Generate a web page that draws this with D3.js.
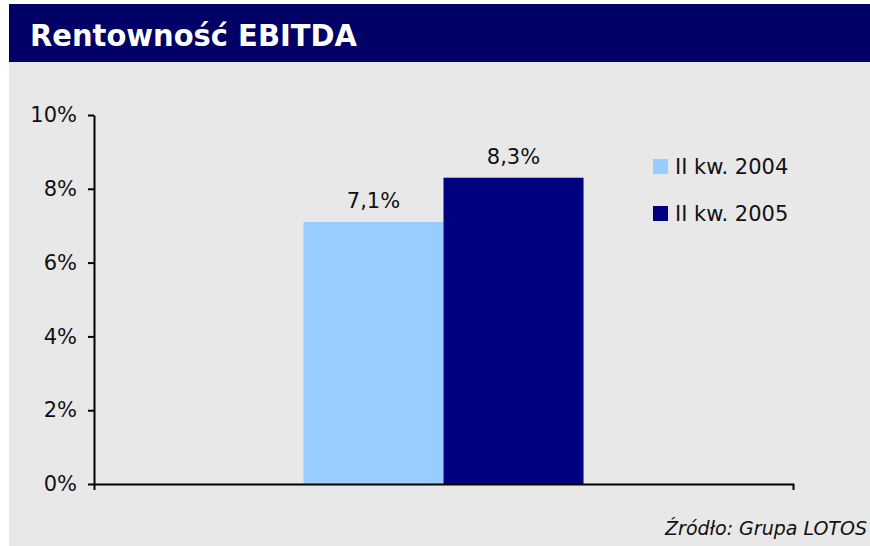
<!DOCTYPE html>
<html>
<head>
<meta charset="utf-8">
<script src="https://cdn.jsdelivr.net/npm/d3@7"></script>
<style>
  html, body { margin: 0; padding: 0; background: #fff; }
  svg { display: block; font-family: "DejaVu Sans", Verdana, sans-serif; }
</style>
</head>
<body>
<div id="chart"></div>
<script>
// Rentowność EBITDA — one category, two quarters side by side
const categories = [''];
const seriesNames = ['II kw. 2004', 'II kw. 2005'];
const seriesValues = [7.1, 8.3];
const seriesColors = ['#99ccff', '#000080'];
const yTicks = [0, 2, 4, 6, 8, 10];

const W = 870, H = 546;
const plot = { left: 94, right: 793, top: 115, bottom: 484 };
const fontSize = 21;

const svg = d3.select('#chart').append('svg')
  .attr('width', W).attr('height', H);

// page background + title band
svg.append('rect').attr('x', 9).attr('y', 4).attr('width', W - 9).attr('height', H - 4)
  .attr('fill', '#e8e8e8');
svg.append('rect').attr('x', 9).attr('y', 4).attr('width', W - 9).attr('height', 58)
  .attr('fill', '#000066');
svg.append('text')
  .attr('x', 30).attr('y', 46)
  .attr('fill', '#fff').attr('font-weight', 'bold').attr('font-size', 31)
  .attr('textLength', 327).attr('lengthAdjust', 'spacingAndGlyphs')
  .text('Rentowność EBITDA');

const y = d3.scaleLinear().domain([0, 10]).range([plot.bottom, plot.top]);
const x0 = d3.scaleBand().domain(categories).range([plot.left, plot.right])
  .paddingInner(0).paddingOuter(0.748);
const x1 = d3.scaleBand().domain(seriesNames).range([0, x0.bandwidth()]).padding(0);

// bars
const g = svg.append('g');
g.selectAll('rect.bar')
  .data(seriesNames.map((s, i) => ({ s, v: seriesValues[i], c: seriesColors[i] })))
  .join('rect')
  .attr('class', 'bar')
  .attr('x', d => x0('') + x1(d.s))
  .attr('y', d => y(d.v))
  .attr('width', x1.bandwidth())
  .attr('height', d => y(0) - y(d.v))
  .attr('fill', d => d.c);

// value labels
g.selectAll('text.val')
  .data(seriesNames.map((s, i) => ({ s, v: seriesValues[i] })))
  .join('text')
  .attr('class', 'val')
  .attr('x', d => x0('') + x1(d.s) + x1.bandwidth() / 2)
  .attr('y', d => y(d.v) - 14)
  .attr('text-anchor', 'middle')
  .attr('font-size', fontSize).attr('fill', '#111')
  .text(d => d.v.toFixed(1).replace('.', ',') + '%');

// y axis
const yAxis = svg.append('g')
  .attr('transform', `translate(${plot.left},0)`)
  .call(d3.axisLeft(y).tickValues(yTicks).tickSize(6).tickSizeOuter(0)
    .tickPadding(11).tickFormat(d => d + '%'));
yAxis.select('.domain').attr('stroke', '#000').attr('stroke-width', 2);
yAxis.selectAll('.tick line').attr('stroke', '#000').attr('stroke-width', 2);
yAxis.selectAll('.tick text').attr('font-size', fontSize).attr('fill', '#111')
  .attr('font-family', '"DejaVu Sans", Verdana, sans-serif');

// x axis: baseline with end ticks only
const xAxis = svg.append('g')
  .attr('transform', `translate(0,${plot.bottom})`)
  .call(d3.axisBottom(x0).tickValues([]).tickSizeOuter(6));
xAxis.select('.domain').attr('stroke', '#000').attr('stroke-width', 2);

// legend
const legend = svg.append('g').attr('transform', 'translate(653,159)');
seriesNames.forEach((s, i) => {
  const row = legend.append('g').attr('transform', `translate(0,${i * 47})`);
  row.append('rect').attr('width', 15).attr('height', 15).attr('fill', seriesColors[i]);
  row.append('text').attr('x', 22).attr('y', 15)
    .attr('font-size', fontSize).attr('fill', '#111').text(s);
});

// source
svg.append('text')
  .attr('x', 867).attr('y', 535)
  .attr('text-anchor', 'end')
  .attr('font-size', 19).attr('font-style', 'italic').attr('fill', '#111')
  .text('Źródło: Grupa LOTOS');
</script>
</body>
</html>
